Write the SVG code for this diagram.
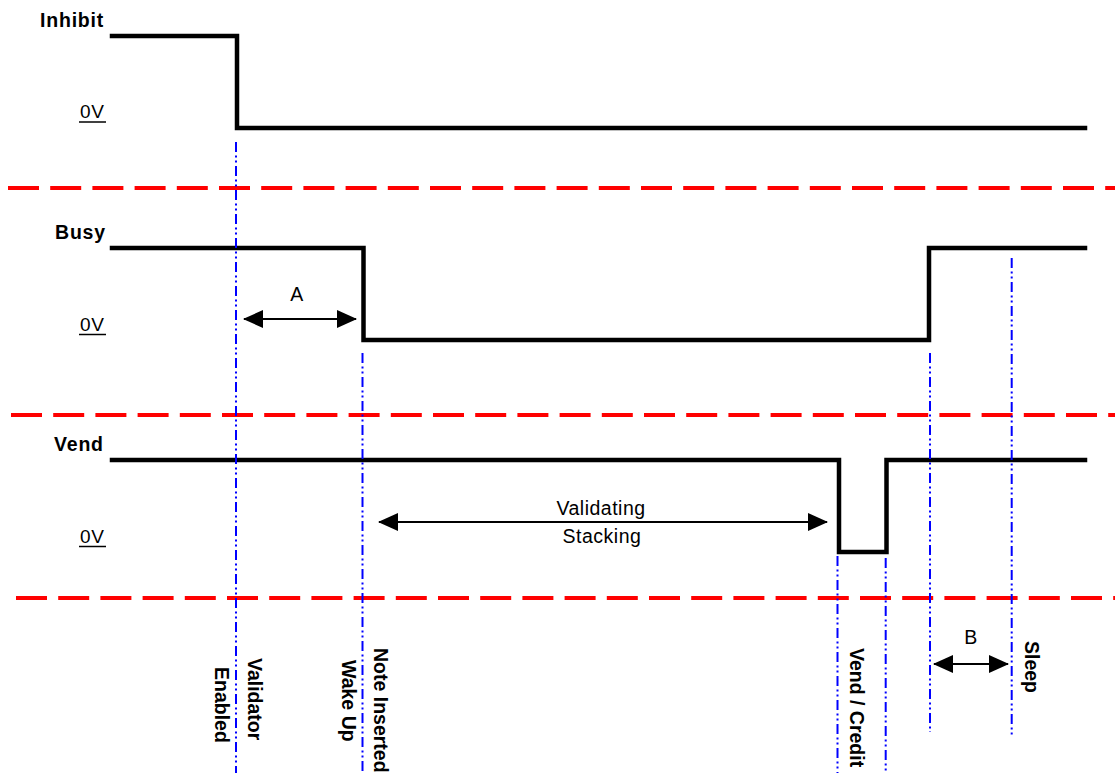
<svg xmlns="http://www.w3.org/2000/svg" width="1115" height="773" viewBox="0 0 1115 773">
<style>
.sig{fill:none;stroke:#000;stroke-width:4.5;stroke-linejoin:miter;stroke-linecap:square}
.sep{fill:none;stroke:#ff0000;stroke-width:4;stroke-dasharray:31 11.2}
.mk{fill:none;stroke:#0000ff;stroke-width:2;stroke-dasharray:10 3.5 2 3 2 3.5}
.dim{fill:none;stroke:#000;stroke-width:2}
.lbl{font-family:"Liberation Sans",Arial,sans-serif;font-size:19.5px;font-weight:bold;fill:#000;letter-spacing:0.8px}
.zv{font-family:"Liberation Sans",Arial,sans-serif;font-size:19px;fill:#000;letter-spacing:0.8px}
.txt{font-family:"Liberation Sans",Arial,sans-serif;font-size:19.5px;fill:#000;letter-spacing:0.5px}
.ev{font-family:"Liberation Sans",Arial,sans-serif;font-size:19.5px;font-weight:bold;fill:#000}
.ul{stroke:#000;stroke-width:1.5}
</style>
<defs>
<marker id="ah" markerUnits="userSpaceOnUse" markerWidth="20" markerHeight="18" viewBox="0 0 20 18" refX="19" refY="9" orient="auto-start-reverse">
<path d="M0,0 L20,9 L0,18 Z" fill="#000"/>
</marker>
</defs>

<g id="separators">
<path class="sep" d="M8,188 H1115"/>
<path class="sep" d="M11,415 H1115"/>
<path class="sep" d="M16,598 H1115"/>
</g>

<g id="inhibit">
<text class="lbl" x="40" y="27">Inhibit</text>
<text class="zv" x="80" y="118">0V</text>
<line class="ul" x1="79" y1="122" x2="106" y2="122"/>
<path class="sig" d="M112,36 H237 V128 H1085"/>
</g>

<g id="busy">
<text class="lbl" x="55" y="239">Busy</text>
<text class="zv" x="80" y="331">0V</text>
<line class="ul" x1="79" y1="334.5" x2="106" y2="334.5"/>
<path class="sig" d="M112,248 H363.5 V340 H929 V248 H1085"/>
</g>

<g id="vend">
<text class="lbl" x="54" y="451">Vend</text>
<text class="zv" x="80" y="543">0V</text>
<line class="ul" x1="79" y1="546.5" x2="106" y2="546.5"/>
<path class="sig" d="M112,460 H839 V552 H886.5 V460 H1085"/>
</g>

<g id="connectors">
<path class="mk" d="M236,142 V773"/>
<path class="mk" d="M362.5,353 V773"/>
<path class="mk" d="M837.5,556 V773"/>
<path class="mk" d="M885.7,558 V773"/>
<path class="mk" d="M930,353 V732"/>
<path class="mk" d="M1011.7,258 V737"/>
<path class="dim" d="M244,319 H356" marker-start="url(#ah)" marker-end="url(#ah)"/>
<path class="dim" d="M379,522 H827" marker-start="url(#ah)" marker-end="url(#ah)"/>
<path class="dim" d="M934,664 H1008" marker-start="url(#ah)" marker-end="url(#ah)"/>
</g>

<g id="dimension-labels">
<text class="txt" x="297" y="301" text-anchor="middle">A</text>
<text class="txt" x="601" y="515" text-anchor="middle">Validating</text>
<text class="txt" x="602" y="543" text-anchor="middle">Stacking</text>
<text class="txt" x="971" y="644" text-anchor="middle">B</text>
</g>

<g id="event-validator-enabled">
<text class="ev" transform="translate(248,658) rotate(90)">Validator</text>
<text class="ev" transform="translate(215,667) rotate(90)">Enabled</text>
</g>
<g id="event-note-inserted">
<text class="ev" transform="translate(374,648) rotate(90)">Note Inserted</text>
<text class="ev" transform="translate(342,660) rotate(90)">Wake Up</text>
</g>
<g id="event-vend-credit">
<text class="ev" transform="translate(850,648) rotate(90)">Vend / Credit</text>
</g>
<g id="event-sleep">
<text class="ev" transform="translate(1025,641) rotate(90)">Sleep</text>
</g>
</svg>
